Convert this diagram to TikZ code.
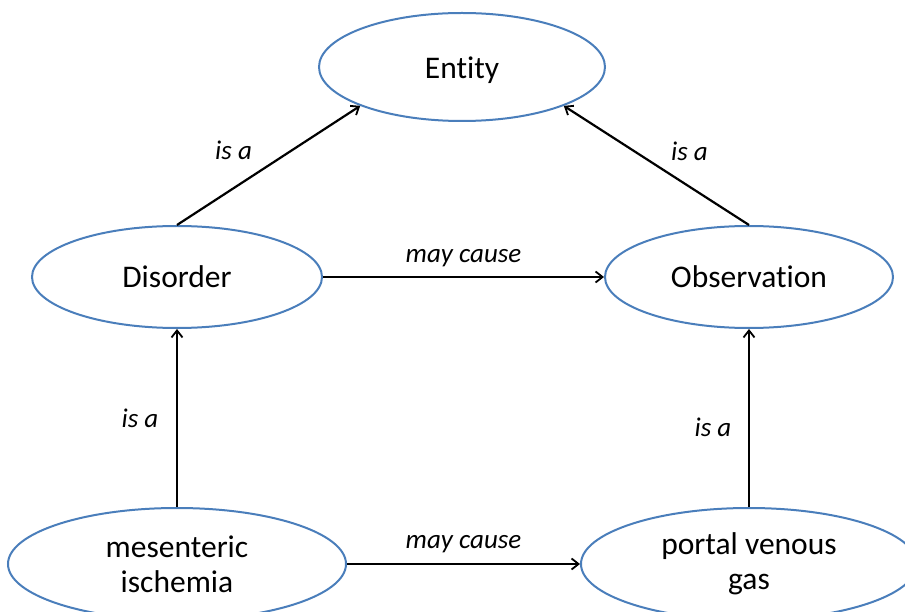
\documentclass[tikz,border=0pt]{standalone}
\usepackage{fontspec}
\setmainfont[Ligatures=NoCommon]{Carlito}
\usetikzlibrary{shapes.geometric,arrows.meta}
\definecolor{olblue}{RGB}{74,126,187}
\tikzset{
  ell/.style={ellipse, draw=olblue, line width=2pt, fill=white, inner sep=0pt,
    align=center, font=\fontsize{31.5}{35}\selectfont},
  conn/.style={draw=black, line width=2.2pt, -{Straight Barb[length=7pt,width=11pt,line width=1.8pt]}},
  lbl/.style={font=\fontsize{27}{30}\selectfont\itshape, inner sep=0pt}
}
\begin{document}
\begin{tikzpicture}[x=1pt,y=-1pt]
\useasboundingbox (0,0) rectangle (905,612);
\clip (0,0) rectangle (905,612);
\node[ell, minimum width=286pt, minimum height=108pt] (ent) at (462,67) {\raisebox{-1pt}[\height][0pt]{Entity}};
\node[ell, minimum width=290pt, minimum height=102pt] (dis) at (177,277) {Disorder};
\node[ell, minimum width=288pt, minimum height=102pt] (obs) at (749,277) {Observation};
\node[ell, minimum width=338pt, minimum height=112pt] (mes) at (177,564) {mesenteric\\ischemia};
\node[ell, minimum width=336pt, minimum height=112pt] (pvg) at (749,564) {portal venous\\gas};
\draw[conn] (dis.north) -- node[lbl, xshift=-35pt, yshift=15pt] {is a} (ent.south west);
\draw[conn] (obs.north) -- node[lbl, xshift=33pt, yshift=14pt] {is a} (ent.south east);
\draw[conn] (dis.east) -- node[lbl, yshift=19pt] {may cause} (obs.west);
\draw[conn] (mes.north) -- node[lbl, xshift=-37pt] {is a} (dis.south);
\draw[conn] (pvg.north) -- node[lbl, xshift=-36pt, yshift=-9pt] {is a} (obs.south);
\draw[conn] (mes.east) -- node[lbl, yshift=20pt] {may cause} (pvg.west);
\end{tikzpicture}
\end{document}
